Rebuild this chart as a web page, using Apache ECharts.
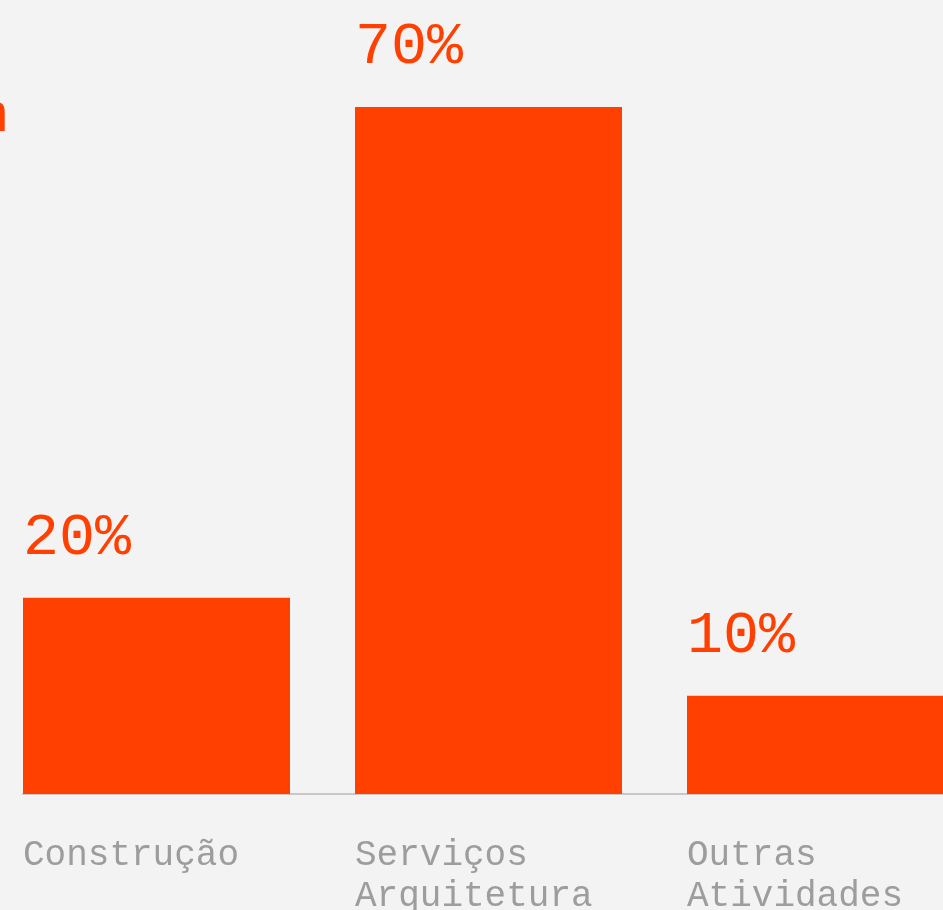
<!DOCTYPE html>
<html>
<head>
<meta charset="utf-8">
<script src="https://cdn.jsdelivr.net/npm/echarts@6/dist/echarts.min.js"></script>
<style>
  html, body { margin: 0; padding: 0; background: #f3f3f3; overflow: hidden; }
  /* chart is wider than the window: the right bar and the heading run off the edges */
  #chart { position: absolute; left: -20px; top: 0; width: 1020px; height: 910px; }
</style>
</head>
<body>
<div id="chart"></div>
<script>
const categories = ['Construção', 'Serviços\nArquitetura', 'Outras\nAtividades'];
const shares = [20, 70, 10];

const ORANGE = '#ff4000';
const MONO = '"Liberation Mono", "DejaVu Sans Mono", monospace';

const chart = echarts.init(document.getElementById('chart'));

const option = {
  backgroundColor: '#f3f3f3',
  animation: false,
  graphic: [{
    // tail of the cut-off heading at the top left
    type: 'text',
    left: -4,
    top: 88,
    style: { text: 'n', font: '56px ' + MONO, fill: ORANGE }
  }],
  grid: [
    { left: 10.5, width: 996, top: 107, bottom: 116, outerBoundsMode: 'none' },
    { left: 43, right: 0, top: 107, bottom: 116, outerBoundsMode: 'none' }
  ],
  xAxis: [{
    type: 'category',
    data: categories,
    gridIndex: 0,
    axisLine: { show: false },
    axisTick: { show: false },
    axisLabel: {
      margin: 41,
      interval: 0,
      formatter: (v) => v.split('\n').map(s => '{a|' + s + '}').join('\n'),
      rich: {
        a: { width: 267, align: 'left', fontFamily: MONO, fontSize: 36, lineHeight: 41, color: '#9d9d9d' }
      }
    }
  }, {
    type: 'value',
    gridIndex: 1,
    axisLine: { show: true, onZero: false, lineStyle: { color: '#c8c8c8', width: 2 } },
    axisTick: { show: false },
    axisLabel: { show: false },
    splitLine: { show: false }
  }],
  yAxis: [{
    type: 'value',
    gridIndex: 0,
    min: 0,
    max: 70,
    show: false
  }, {
    type: 'value',
    gridIndex: 1,
    show: false
  }],
  series: [{
    type: 'bar',
    data: shares,
    barWidth: 267,
    itemStyle: { color: ORANGE },
    label: {
      show: true,
      position: 'top',
      distance: 30,
      formatter: '{a|{c}%}',
      rich: {
        a: { width: 267, align: 'left', fontFamily: MONO, fontSize: 60, lineHeight: 60, color: ORANGE }
      }
    }
  }]
};

chart.setOption(option);
</script>
</body>
</html>
